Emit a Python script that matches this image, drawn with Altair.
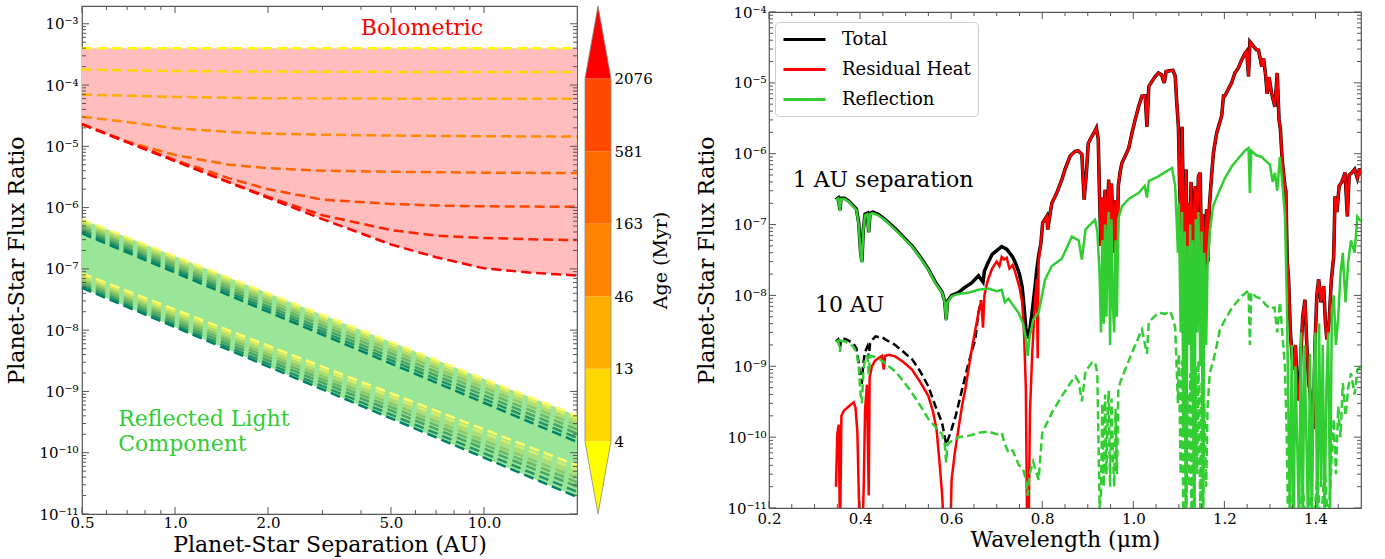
import altair as alt
import pandas as pd

FONT = "DejaVu Serif"
FRAME = "#555555"

# ---------------------------------------------------------------------------
# Left panel: planet/star flux ratio against orbital separation
# ---------------------------------------------------------------------------
sep_au = [0.5, 0.7, 1.0, 1.5, 2.0, 3.0, 5.0, 7.0, 10.0, 14.0, 20.0]

# bolometric tracks, youngest (top) to oldest (bottom)
bolo_track_1 = [4.0e-4, 4.0e-4, 4.0e-4, 4.0e-4, 4.0e-4, 4.0e-4, 4.0e-4, 4.0e-4, 4.0e-4, 4.0e-4, 4.0e-4]
bolo_track_2 = [1.8e-4, 1.74e-4, 1.7e-4, 1.67e-4, 1.66e-4, 1.65e-4, 1.64e-4, 1.64e-4, 1.63e-4, 1.63e-4, 1.63e-4]
bolo_track_3 = [7.0e-5, 6.7e-5, 6.4e-5, 6.2e-5, 6.1e-5, 6.05e-5, 6.0e-5, 6.0e-5, 5.98e-5, 5.97e-5, 5.97e-5]
bolo_track_4 = [3.05e-5, 2.5e-5, 1.97e-5, 1.72e-5, 1.62e-5, 1.55e-5, 1.5e-5, 1.48e-5, 1.46e-5, 1.45e-5, 1.44e-5]
bolo_track_5 = [2.3e-5, 1.2e-5, 7.2e-6, 5.0e-6, 4.4e-6, 4.0e-6, 3.85e-6, 3.78e-6, 3.72e-6, 3.69e-6, 3.67e-6]
bolo_track_6 = [2.3e-5, 1.18e-5, 6.0e-6, 3.0e-6, 2.0e-6, 1.35e-6, 1.15e-6, 1.08e-6, 1.05e-6, 1.04e-6, 1.03e-6]
bolo_track_7 = [2.3e-5, 1.17e-5, 5.8e-6, 2.6e-6, 1.5e-6, 7.5e-7, 4.3e-7, 3.5e-7, 3.2e-7, 3.05e-7, 2.95e-7]
bolo_track_8 = [2.3e-5, 1.17e-5, 5.75e-6, 2.55e-6, 1.44e-6, 6.5e-7, 2.5e-7, 1.55e-7, 1.02e-7, 8.7e-8, 7.8e-8]
bolo_tracks = [bolo_track_1, bolo_track_2, bolo_track_3, bolo_track_4,
               bolo_track_5, bolo_track_6, bolo_track_7, bolo_track_8]
bolo_colors = ["#ffff00", "#ffd700", "#ffae00", "#ff8c00",
               "#ff6a00", "#ff4800", "#ff2400", "#ff0000"]

# reflected-light tracks (two albedo bundles), values at 0.5 AU and 20 AU
refl_sep = [0.5, 20.0]
refl_upper_at_05 = [6.4e-7, 6.0e-7, 5.6e-7, 5.2e-7, 4.8e-7, 4.4e-7, 4.1e-7, 3.8e-7]
refl_upper_at_20 = [4.0e-10, 3.6e-10, 3.2e-10, 2.8e-10, 2.4e-10, 2.05e-10, 1.75e-10, 1.5e-10]
refl_lower_at_05 = [8.4e-8, 7.8e-8, 7.2e-8, 6.6e-8, 6.1e-8, 5.6e-8, 5.2e-8, 4.9e-8]
refl_lower_at_20 = [6.2e-11, 5.3e-11, 4.6e-11, 3.9e-11, 3.3e-11, 2.8e-11, 2.3e-11, 1.9e-11]
refl_colors = ["#ffff66", "#dbed66", "#b6db66", "#92c966",
               "#6db666", "#49a466", "#249266", "#008066"]

# colour bar: age bins
age_labels = ["4", "13", "46", "163", "581", "2076"]
age_bin_colors = ["#ffd800", "#ffad00", "#ff8500", "#ff6a00", "#ff4a00"]
age_low_color = "#ffff00"
age_high_color = "#ff0000"

# axis ticks
left_x_major = [0.5, 1.0, 2.0, 5.0, 10.0]
left_x_minor = [0.6, 0.7, 0.8, 0.9, 3.0, 4.0, 6.0, 7.0, 8.0, 9.0]
left_y_exps = [-11, -10, -9, -8, -7, -6, -5, -4, -3]
left_y_labels = ["10⁻¹¹", "10⁻¹⁰", "10⁻⁹", "10⁻⁸", "10⁻⁷", "10⁻⁶", "10⁻⁵", "10⁻⁴", "10⁻³"]
left_y_major = [1e-11, 1e-10, 1e-9, 1e-8, 1e-7, 1e-6, 1e-5, 1e-4, 1e-3]

right_x_major = [0.2, 0.4, 0.6, 0.8, 1.0, 1.2, 1.4]
right_x_minor = [0.25, 0.3, 0.35, 0.45, 0.5, 0.55, 0.65, 0.7, 0.75, 0.85, 0.9, 0.95,
                 1.05, 1.1, 1.15, 1.25, 1.3, 1.35, 1.45]
right_y_exps = [-11, -10, -9, -8, -7, -6, -5, -4]
right_y_labels = ["10⁻¹¹", "10⁻¹⁰", "10⁻⁹", "10⁻⁸", "10⁻⁷", "10⁻⁶", "10⁻⁵", "10⁻⁴"]
right_y_major = [1e-11, 1e-10, 1e-9, 1e-8, 1e-7, 1e-6, 1e-5, 1e-4]
log_minor_mult = [2, 3, 4, 5, 6, 7, 8, 9]

# ---------------------------------------------------------------------------
# Right panel: spectra (wavelength in micron, flux ratio)
# ---------------------------------------------------------------------------
residual_heat = [
    (0.347, 2.0e-11), (0.350, 1.1e-10), (0.353, 1.5e-10), (0.356, 4e-12), (0.359, 2.0e-10),
    (0.365, 2.4e-10), (0.372, 2.6e-10), (0.380, 2.9e-10), (0.386, 3.1e-10), (0.390, 2.6e-10),
    (0.394, 1.2e-10), (0.398, 1.0e-11), (0.400, 4e-12), (0.405, 4e-12), (0.408, 2.0e-11),
    (0.411, 2.5e-10), (0.415, 5.5e-10), (0.419, 1.5e-11), (0.421, 7e-10), (0.426, 1.0e-9),
    (0.433, 1.2e-9), (0.440, 1.3e-9), (0.448, 1.4e-9), (0.452, 9e-10), (0.455, 1.4e-9),
    (0.463, 1.45e-9), (0.477, 1.38e-9), (0.495, 1.15e-9), (0.514, 9.0e-10), (0.532, 6.0e-10),
    (0.550, 3.8e-10), (0.560, 2.3e-10), (0.568, 1.28e-10), (0.575, 4e-11), (0.580, 1.6e-11),
    (0.585, 4e-12), (0.598, 4e-12), (0.601, 2.5e-11), (0.608, 6e-11), (0.616, 1.3e-10),
    (0.624, 2.8e-10), (0.631, 4.7e-10), (0.638, 9e-10), (0.645, 1.7e-9), (0.652, 3e-9),
    (0.660, 5.7e-9), (0.666, 8.5e-9), (0.670, 3.5e-9), (0.673, 1.0e-8), (0.680, 1.6e-8),
    (0.690, 2.4e-8), (0.700, 3.0e-8), (0.706, 2.6e-8), (0.711, 3.5e-8), (0.716, 3.2e-8),
    (0.722, 3.4e-8), (0.728, 2.4e-8), (0.735, 2.7e-8), (0.741, 2.1e-8), (0.750, 1.3e-8),
    (0.756, 8e-9), (0.760, 3e-9), (0.764, 5e-10), (0.767, 4e-12), (0.770, 4e-12),
    (0.773, 2.2e-10), (0.778, 1.5e-9), (0.784, 8e-9), (0.788, 1.7e-8), (0.790, 1.3e-9),
    (0.792, 3.0e-8), (0.797, 5.5e-8), (0.801, 1.06e-7), (0.810, 1.31e-7), (0.812, 8.5e-8),
    (0.821, 2.0e-7), (0.832, 2.8e-7), (0.843, 4.3e-7), (0.850, 6.0e-7), (0.861, 9.2e-7),
    (0.872, 1.08e-6), (0.879, 1.1e-6), (0.887, 9.8e-7), (0.892, 2.25e-7), (0.897, 5.4e-7),
    (0.901, 1.4e-6), (0.909, 1.76e-6), (0.916, 2.1e-6), (0.919, 2.3e-6), (0.923, 1.6e-6),
    (0.926, 2.2e-7), (0.929, 5e-8), (0.932, 2.4e-7), (0.935, 6e-8), (0.938, 3.1e-7),
    (0.941, 4e-8), (0.944, 2.0e-7), (0.946, 4.3e-7), (0.949, 8e-8), (0.952, 3.8e-7),
    (0.955, 1.2e-7), (0.958, 4e-8), (0.961, 2.2e-7), (0.964, 3e-8), (0.967, 3.5e-7),
    (0.971, 5.5e-7), (0.975, 7.4e-7), (0.983, 9.5e-7), (0.990, 1.2e-6), (0.997, 1.95e-6),
    (1.004, 3.0e-6), (1.012, 4.7e-6), (1.019, 6.5e-6), (1.026, 6.6e-6), (1.030, 2.4e-6),
    (1.034, 8.9e-6), (1.041, 1.05e-5), (1.048, 1.23e-5), (1.055, 1.38e-5), (1.062, 1.3e-5),
    (1.068, 1.0e-5), (1.072, 1.45e-5), (1.080, 1.48e-5), (1.087, 1.5e-5), (1.092, 1.25e-5),
    (1.095, 5.8e-6), (1.099, 2.4e-6), (1.102, 3e-7), (1.105, 8e-8), (1.107, 2.4e-6),
    (1.110, 2e-7), (1.113, 3e-8), (1.116, 6e-7), (1.119, 1.2e-8), (1.121, 2.0e-7),
    (1.124, 5e-8), (1.127, 4e-7), (1.130, 1.5e-8), (1.133, 1.5e-7), (1.136, 3.5e-7),
    (1.139, 6e-8), (1.143, 4.8e-7), (1.147, 5.4e-7), (1.150, 2e-8), (1.153, 1.4e-7),
    (1.156, 1.4e-8), (1.159, 6e-8), (1.161, 1.64e-7), (1.164, 3e-8), (1.167, 1.8e-7),
    (1.172, 5e-7), (1.176, 1.03e-6), (1.183, 1.95e-6), (1.190, 2.8e-6), (1.194, 3.4e-6),
    (1.198, 6.5e-6), (1.201, 6.5e-6), (1.210, 8.5e-6), (1.216, 1.0e-5), (1.223, 1.38e-5),
    (1.230, 1.6e-5), (1.238, 2.1e-5), (1.245, 2.6e-5), (1.249, 2.8e-5), (1.253, 1.23e-5),
    (1.256, 3.8e-5), (1.262, 3.4e-5), (1.270, 2.95e-5), (1.275, 2.9e-5), (1.282, 1.7e-5),
    (1.286, 2.2e-5), (1.290, 1.38e-5), (1.294, 7e-6), (1.298, 1.2e-5), (1.304, 7e-6),
    (1.311, 4.6e-6), (1.316, 1.38e-5), (1.320, 3e-6), (1.323, 2.2e-6), (1.327, 8e-7),
    (1.333, 3.5e-7), (1.335, 3.0e-7), (1.338, 3e-8), (1.341, 1.7e-8), (1.345, 3e-9),
    (1.349, 1.3e-9), (1.352, 9e-10), (1.356, 2e-9), (1.360, 5e-10), (1.364, 3.3e-10),
    (1.368, 1.5e-9), (1.372, 5e-9), (1.377, 8.7e-9), (1.381, 2e-9), (1.385, 6e-10),
    (1.388, 4.3e-10), (1.392, 2e-10), (1.395, 1.3e-10), (1.399, 2e-9), (1.403, 1e-8),
    (1.407, 1.7e-8), (1.412, 8e-9), (1.418, 1.35e-8), (1.422, 4e-9), (1.425, 2.4e-9),
    (1.430, 4.2e-9), (1.435, 1.7e-8), (1.440, 3.5e-8), (1.443, 2.5e-7), (1.447, 1.5e-7),
    (1.452, 3.5e-7), (1.458, 4e-7), (1.465, 5.4e-7), (1.470, 1.3e-7), (1.474, 5e-7),
    (1.480, 5.4e-7), (1.486, 6e-7), (1.492, 4.5e-7), (1.497, 6.2e-7), (1.500, 5e-7),
]

reflection_1au = [
    (0.347, 2.2e-7), (0.352, 2.33e-7), (0.356, 1.55e-7), (0.358, 2.3e-7), (0.366, 2.3e-7),
    (0.375, 2.1e-7), (0.385, 1.8e-7), (0.392, 1.6e-7), (0.397, 1.0e-7), (0.401, 4e-8),
    (0.404, 2.9e-8), (0.407, 8e-8), (0.411, 1.35e-7), (0.416, 1.4e-7), (0.419, 7.6e-8),
    (0.422, 1.4e-7), (0.428, 1.45e-7), (0.440, 1.35e-7), (0.455, 1.15e-7), (0.477, 8.5e-8),
    (0.495, 6.5e-8), (0.514, 4.9e-8), (0.532, 3.4e-8), (0.550, 2.3e-8), (0.565, 1.5e-8),
    (0.580, 1.1e-8), (0.586, 8e-9), (0.589, 4.4e-9), (0.592, 8e-9), (0.601, 9.7e-9),
    (0.616, 1.05e-8), (0.640, 1.1e-8), (0.660, 1.2e-8), (0.682, 1.25e-8), (0.700, 1.15e-8),
    (0.711, 1.2e-8), (0.718, 8e-9), (0.726, 9e-9), (0.735, 7.4e-9), (0.748, 5.7e-9),
    (0.758, 4e-9), (0.764, 2.5e-9), (0.768, 1.4e-9), (0.772, 2.5e-9), (0.780, 4.5e-9),
    (0.792, 5.7e-9), (0.806, 1.65e-8), (0.821, 2.6e-8), (0.843, 3.3e-8), (0.865, 6.8e-8),
    (0.880, 6e-8), (0.887, 3.2e-8), (0.895, 8.5e-8), (0.902, 9.5e-8), (0.916, 1.17e-7),
    (0.921, 8e-8), (0.926, 2e-8), (0.929, 3e-9), (0.932, 6e-8), (0.935, 4e-9),
    (0.938, 1e-7), (0.941, 5e-9), (0.944, 8e-8), (0.946, 1.5e-7), (0.949, 2e-9),
    (0.952, 1.2e-7), (0.955, 8e-9), (0.958, 3e-9), (0.961, 6e-8), (0.964, 5e-9),
    (0.967, 1.2e-7), (0.975, 1.8e-7), (0.990, 2.3e-7), (1.012, 2.8e-7), (1.025, 3.5e-7),
    (1.030, 2.4e-7), (1.034, 4.1e-7), (1.055, 4.8e-7), (1.070, 5.5e-7), (1.085, 6.3e-7),
    (1.092, 3.5e-7), (1.098, 4e-8), (1.100, 2e-7), (1.104, 3e-9), (1.107, 1.5e-7),
    (1.110, 1e-10), (1.113, 8e-8), (1.116, 5e-12), (1.119, 5e-8), (1.122, 2e-9),
    (1.125, 1e-7), (1.128, 4e-10), (1.131, 6e-8), (1.134, 5e-12), (1.137, 1.2e-7),
    (1.140, 3e-9), (1.143, 1.5e-7), (1.147, 1e-9), (1.150, 8e-8), (1.153, 5e-12),
    (1.156, 4e-8), (1.160, 2e-9), (1.163, 2.6e-8), (1.168, 8e-8), (1.175, 1.8e-7),
    (1.187, 2.8e-7), (1.201, 4.5e-7), (1.216, 6.6e-7), (1.230, 8.5e-7), (1.245, 1.1e-6),
    (1.253, 1.2e-6), (1.256, 2.8e-7), (1.259, 1.1e-6), (1.270, 9.5e-7), (1.282, 9e-7),
    (1.290, 8e-7), (1.300, 7e-7), (1.306, 4e-7), (1.311, 5.4e-7), (1.316, 3e-7),
    (1.322, 9e-7), (1.327, 4e-7), (1.333, 1.3e-7), (1.337, 1e-8), (1.340, 5e-10),
    (1.344, 5e-12), (1.348, 2e-9), (1.352, 5e-12), (1.356, 1e-9), (1.360, 8e-11),
    (1.364, 5e-12), (1.368, 3e-9), (1.372, 5e-12), (1.376, 2e-9), (1.380, 1e-10),
    (1.384, 5e-12), (1.388, 1.5e-9), (1.392, 5e-12), (1.396, 6e-10), (1.400, 3e-9),
    (1.404, 5e-12), (1.408, 4e-9), (1.412, 2e-11), (1.416, 2e-9), (1.420, 5e-12),
    (1.424, 5e-10), (1.428, 3e-9), (1.432, 1e-11), (1.436, 6e-9), (1.440, 1e-8),
    (1.445, 2e-9), (1.450, 5e-9), (1.455, 2e-8), (1.460, 4e-8), (1.466, 8e-9),
    (1.472, 3e-8), (1.478, 6e-8), (1.486, 4e-8), (1.492, 1.3e-7), (1.500, 1.1e-7),
]

reflection_10au = [
    (0.347, 2.2e-9), (0.352, 2.3e-9), (0.356, 1.6e-9), (0.358, 2.3e-9), (0.366, 2.25e-9),
    (0.375, 2.1e-9), (0.385, 1.9e-9), (0.392, 1.6e-9), (0.397, 1.0e-9), (0.401, 4e-10),
    (0.404, 3.0e-10), (0.407, 8e-10), (0.411, 1.32e-9), (0.416, 1.4e-9), (0.419, 7.7e-10),
    (0.422, 1.4e-9), (0.428, 1.39e-9), (0.440, 1.3e-9), (0.455, 1.1e-9), (0.477, 8.5e-10),
    (0.495, 6.2e-10), (0.514, 4.2e-10), (0.532, 2.8e-10), (0.550, 1.8e-10), (0.565, 1.4e-10),
    (0.580, 1.1e-10), (0.586, 8e-11), (0.589, 4.4e-11), (0.592, 8e-11), (0.601, 8.8e-11),
    (0.616, 1.0e-10), (0.640, 1.05e-10), (0.660, 1.15e-10), (0.682, 1.2e-10), (0.700, 1.1e-10),
    (0.711, 1.15e-10), (0.718, 8e-11), (0.726, 6e-11), (0.735, 6.5e-11), (0.748, 4.1e-11),
    (0.758, 3.5e-11), (0.764, 2.5e-11), (0.768, 1.5e-11), (0.772, 3e-11), (0.780, 4.5e-11),
    (0.792, 2.5e-11), (0.800, 1.15e-10), (0.814, 1.78e-10), (0.821, 2.2e-10), (0.843, 3.8e-10),
    (0.865, 6.2e-10), (0.873, 7.2e-10), (0.880, 6e-10), (0.887, 3.2e-10), (0.895, 8.5e-10),
    (0.909, 1.12e-9), (0.916, 1.15e-9), (0.921, 8e-10), (0.926, 1e-11), (0.929, 1.5e-11),
    (0.932, 3e-10), (0.935, 2e-11), (0.938, 4e-10), (0.941, 3e-11), (0.944, 2.5e-10),
    (0.946, 4.5e-10), (0.949, 2e-11), (0.952, 3.5e-10), (0.955, 6e-11), (0.958, 2e-11),
    (0.961, 2.5e-10), (0.964, 3e-11), (0.967, 4.5e-10), (0.971, 5.9e-10), (0.985, 1.0e-9),
    (0.997, 1.55e-9), (1.019, 3.3e-9), (1.030, 1.5e-9), (1.034, 4.2e-9), (1.055, 5.7e-9),
    (1.070, 5.5e-9), (1.081, 6.0e-9), (1.088, 4.5e-9), (1.092, 3.5e-9), (1.098, 3e-10),
    (1.100, 1.5e-9), (1.104, 3e-11), (1.107, 1.2e-9), (1.110, 5e-12), (1.113, 6e-10),
    (1.116, 5e-12), (1.119, 4e-10), (1.122, 2e-11), (1.125, 8e-10), (1.128, 5e-12),
    (1.131, 5e-10), (1.134, 5e-12), (1.137, 1e-9), (1.140, 3e-11), (1.143, 1.2e-9),
    (1.147, 1e-11), (1.150, 6e-10), (1.153, 5e-12), (1.156, 3e-10), (1.160, 2e-11),
    (1.163, 2.6e-10), (1.168, 8e-10), (1.180, 1.55e-9), (1.190, 3.3e-9), (1.201, 4.5e-9),
    (1.216, 6.6e-9), (1.238, 9.8e-9), (1.248, 1.1e-8), (1.253, 1.2e-8), (1.256, 2e-9),
    (1.259, 1.1e-8), (1.270, 9.5e-9), (1.280, 9e-9), (1.290, 7.5e-9), (1.300, 6.5e-9),
    (1.310, 6.8e-9), (1.316, 3e-9), (1.322, 8e-9), (1.327, 3e-9), (1.333, 1.0e-9),
    (1.337, 1e-10), (1.340, 5e-12), (1.344, 2e-11), (1.348, 5e-12), (1.352, 1.5e-11),
    (1.356, 5e-12), (1.364, 5e-12), (1.372, 2e-11), (1.380, 5e-12), (1.388, 1.5e-11),
    (1.396, 5e-12), (1.404, 3e-11), (1.412, 5e-12), (1.420, 4e-11), (1.428, 5e-12),
    (1.436, 6e-11), (1.440, 1.8e-10), (1.445, 3e-11), (1.450, 2.7e-10), (1.455, 1e-10),
    (1.460, 5.8e-10), (1.466, 2e-10), (1.472, 5e-10), (1.478, 8e-10), (1.486, 4e-10),
    (1.492, 9e-10), (1.500, 1.0e-9),
]

# total at 1 AU where reflection dominates; beyond 0.8 micron it follows the residual heat
total_1au_blue = [
    (0.347, 2.25e-7), (0.352, 2.38e-7), (0.356, 1.6e-7), (0.358, 2.35e-7), (0.366, 2.35e-7),
    (0.375, 2.15e-7), (0.385, 1.85e-7), (0.392, 1.65e-7), (0.397, 1.05e-7), (0.401, 4.2e-8),
    (0.404, 3.0e-8), (0.407, 8.3e-8), (0.411, 1.4e-7), (0.416, 1.45e-7), (0.419, 7.8e-8),
    (0.422, 1.45e-7), (0.428, 1.5e-7), (0.440, 1.4e-7), (0.455, 1.18e-7), (0.477, 8.8e-8),
    (0.495, 6.7e-8), (0.514, 5.0e-8), (0.532, 3.5e-8), (0.550, 2.35e-8), (0.565, 1.55e-8),
    (0.580, 1.12e-8), (0.586, 8.2e-9), (0.589, 4.6e-9), (0.592, 8.3e-9), (0.601, 1.0e-8),
    (0.616, 1.1e-8), (0.630, 1.3e-8), (0.645, 1.5e-8), (0.660, 1.9e-8), (0.670, 1.55e-8),
    (0.673, 2.2e-8), (0.680, 2.8e-8), (0.690, 3.8e-8), (0.700, 4.3e-8), (0.711, 4.9e-8),
    (0.722, 4.5e-8), (0.735, 3.5e-8), (0.741, 2.9e-8), (0.750, 2.0e-8), (0.756, 1.3e-8),
    (0.760, 7e-9), (0.764, 3.5e-9), (0.768, 2.5e-9), (0.772, 3e-9), (0.778, 6e-9),
    (0.784, 1.3e-8), (0.788, 2.3e-8), (0.792, 3.6e-8), (0.797, 5.4e-8),
]

total_10au_blue = [
    (0.347, 2.25e-9), (0.352, 2.4e-9), (0.356, 1.8e-9), (0.358, 2.45e-9), (0.366, 2.45e-9),
    (0.375, 2.3e-9), (0.385, 2.1e-9), (0.392, 1.8e-9), (0.397, 1.1e-9), (0.401, 6e-10),
    (0.404, 5.9e-10), (0.407, 1.1e-9), (0.411, 1.6e-9), (0.416, 1.9e-9), (0.419, 1.3e-9),
    (0.422, 2.1e-9), (0.428, 2.4e-9), (0.434, 2.65e-9), (0.440, 2.6e-9), (0.448, 2.6e-9),
    (0.455, 2.4e-9), (0.477, 2.0e-9), (0.495, 1.6e-9), (0.514, 1.26e-9), (0.532, 8.5e-10),
    (0.550, 5.2e-10), (0.565, 2.8e-10), (0.580, 1.6e-10), (0.586, 1.0e-10), (0.589, 7.9e-11),
    (0.595, 1.0e-10), (0.601, 1.3e-10), (0.610, 2.0e-10), (0.624, 4.7e-10), (0.638, 1.1e-9),
    (0.653, 2.4e-9), (0.660, 5.8e-9), (0.666, 8.6e-9),
]

total_1au = total_1au_blue + [p for p in residual_heat if p[0] > 0.8]

series_names = ["Total", "Residual Heat", "Reflection"]
series_colors = ["#000000", "#ff0000", "#32cd32"]

# ---------------------------------------------------------------------------
# geometry of the panels
# ---------------------------------------------------------------------------
W1, H1 = 495, 508
WC = 26          # width of the colour bar itself
WC_CELL = 176    # colour bar cell, including the gap before the spectrum panel
W2, H2 = 592, 496
MAJOR, MINOR = 7, 4


def sup_expr(exps, labels):
    arr = ",".join("'%s'" % s for s in labels)
    ex = ",".join(str(e) for e in exps)
    return "[%s][indexof([%s], round(log(datum.value)/LN10))]" % (arr, ex)


def minor_log(lo_exp, hi_exp, top):
    vals = []
    for e in range(lo_exp, hi_exp + 1):
        for m in log_minor_mult:
            v = m * 10.0 ** e
            if v < top:
                vals.append(v)
    return vals


def x_ticks(values, x_enc, H, length):
    df = pd.DataFrame({"v": values})
    bottom = alt.Chart(df).mark_rule(color=FRAME, strokeWidth=1).encode(
        x=x_enc, y=alt.value(H), y2=alt.value(H - length))
    top = alt.Chart(df).mark_rule(color=FRAME, strokeWidth=1).encode(
        x=x_enc, y=alt.value(0), y2=alt.value(length))
    return [bottom, top]


def y_ticks(values, y_enc, W, length):
    df = pd.DataFrame({"v": values})
    left = alt.Chart(df).mark_rule(color=FRAME, strokeWidth=1).encode(
        y=y_enc, x=alt.value(0), x2=alt.value(length))
    right = alt.Chart(df).mark_rule(color=FRAME, strokeWidth=1).encode(
        y=y_enc, x=alt.value(W), x2=alt.value(W - length))
    return [left, right]


# ---------------------------------------------------------------------------
# left panel
# ---------------------------------------------------------------------------
sx1 = alt.Scale(type="log", domain=[0.5, 20.0], nice=False)
sy1 = alt.Scale(type="log", domain=[1e-11, 1.95e-3], nice=False)
ax_x1 = alt.Axis(title="Planet-Star Separation (AU)", values=left_x_major, format=".1f",
                 ticks=False, domain=False, grid=False, labelFlush=False, labelOverlap=False,
                 labelPadding=1, titlePadding=4)
ax_y1 = alt.Axis(title="Planet-Star Flux Ratio", values=left_y_major,
                 labelExpr=sup_expr(left_y_exps, left_y_labels),
                 ticks=False, domain=False, grid=False, labelFlush=False, labelOverlap=False,
                 labelPadding=4, titlePadding=10)


def X1(f):
    return alt.X(f, scale=sx1, axis=ax_x1)


def Y1(f):
    return alt.Y(f, scale=sy1, axis=ax_y1)


bolo_band = pd.DataFrame({"sep": sep_au, "hi": bolo_track_1, "lo": bolo_track_8})
bolo_rows = []
for i, tr in enumerate(bolo_tracks):
    for s, f in zip(sep_au, tr):
        bolo_rows.append({"sep": s, "flux": f, "track": i})
bolo_df = pd.DataFrame(bolo_rows)

refl_rows = []
for name, near, far in (("upper", refl_upper_at_05, refl_upper_at_20),
                        ("lower", refl_lower_at_05, refl_lower_at_20)):
    for i in range(len(near)):
        for s, f in zip(refl_sep, (near[i], far[i])):
            refl_rows.append({"sep": s, "flux": f, "shade": i, "track": "%s%d" % (name, i)})
refl_df = pd.DataFrame(refl_rows)
refl_band = pd.DataFrame({"sep": refl_sep,
                          "hi": [refl_upper_at_05[0], refl_upper_at_20[0]],
                          "lo": [refl_lower_at_05[-1], refl_lower_at_20[-1]]})

pink = alt.Chart(bolo_band).mark_area(color="#ffbdbd").encode(
    x=X1("sep:Q"), y=Y1("hi:Q"), y2="lo:Q")
green = alt.Chart(refl_band).mark_area(color="#99e699").encode(
    x=X1("sep:Q"), y=Y1("hi:Q"), y2="lo:Q")
bolo_lines = alt.Chart(bolo_df).mark_line(strokeDash=[10, 5], strokeWidth=2.5).encode(
    x=X1("sep:Q"), y=Y1("flux:Q"),
    color=alt.Color("track:O", scale=alt.Scale(domain=list(range(8)), range=bolo_colors), legend=None))
refl_lines = alt.Chart(refl_df).mark_line(strokeDash=[10, 5], strokeWidth=2.5).encode(
    x=X1("sep:Q"), y=Y1("flux:Q"), detail="track:N",
    color=alt.Color("shade:O", scale=alt.Scale(domain=list(range(8)), range=refl_colors), legend=None))

left_text = pd.DataFrame({
    "sep": [6.3, 0.655, 0.655],
    "flux": [8.4e-4, 3.6e-10, 1.4e-10],
    "label": ["Bolometric", "Reflected Light", "Component"],
    "kind": ["bolo", "refl", "refl"],
})
bolo_label = alt.Chart(left_text[left_text.kind == "bolo"]).mark_text(
    font=FONT, fontSize=22, color="#ff0000", align="center", baseline="middle").encode(
    x=X1("sep:Q"), y=Y1("flux:Q"), text="label:N")
refl_label = alt.Chart(left_text[left_text.kind == "refl"]).mark_text(
    font=FONT, fontSize=22, color="#32cd32", align="left", baseline="middle").encode(
    x=X1("sep:Q"), y=Y1("flux:Q"), text="label:N")

left_ticks = (x_ticks(left_x_major, X1("v:Q"), H1, MAJOR)
              + x_ticks(left_x_minor, X1("v:Q"), H1, MINOR)
              + y_ticks(left_y_major, Y1("v:Q"), W1, MAJOR)
              + y_ticks(minor_log(-11, -3, 1.95e-3), Y1("v:Q"), W1, MINOR))

left = alt.layer(pink, green, bolo_lines, refl_lines, bolo_label, refl_label, *left_ticks).properties(
    width=W1, height=H1, view=alt.ViewBackground(stroke=FRAME, strokeWidth=1.2)
).resolve_scale(color="independent")

# ---------------------------------------------------------------------------
# colour bar (drawn in the left part of its cell, axis pulled back onto it)
# ---------------------------------------------------------------------------
scx = alt.Scale(domain=[0, 1], range=[0, WC], nice=False, zero=False)
scy = alt.Scale(domain=[-1, 6], nice=False, zero=False)
ax_c = alt.Axis(title="Age (Myr)", orient="right", offset=WC - WC_CELL,
                values=list(range(len(age_labels))),
                labelExpr="[%s][datum.value]" % ",".join("'%s'" % a for a in age_labels),
                ticks=False, domain=False, grid=False, labelFlush=False, labelOverlap=False,
                labelPadding=3, titlePadding=18, titleAngle=270, titleFontSize=19)

bins = pd.DataFrame({"lo": list(range(len(age_bin_colors))),
                     "hi": [i + 1 for i in range(len(age_bin_colors))],
                     "c": age_bin_colors})
cbar_bins = alt.Chart(bins).mark_rect().encode(
    x=alt.value(0), x2=alt.value(WC),
    y=alt.Y("lo:Q", scale=scy, axis=ax_c), y2="hi:Q",
    color=alt.Color("c:N", scale=None))
tip_hi = alt.Chart(pd.DataFrame({"x": [0, 0.5, 1], "y": [5, 6, 5], "b": [5, 5, 5]})).mark_area(
    color=age_high_color).encode(x=alt.X("x:Q", scale=scx, axis=None),
                                 y=alt.Y("y:Q", scale=scy, axis=ax_c), y2="b:Q")
tip_lo = alt.Chart(pd.DataFrame({"x": [0, 0.5, 1], "y": [0, -1, 0], "b": [0, 0, 0]})).mark_area(
    color=age_low_color).encode(x=alt.X("x:Q", scale=scx, axis=None),
                                y=alt.Y("y:Q", scale=scy, axis=ax_c), y2="b:Q")
outline = alt.Chart(pd.DataFrame({"x": [0.5, 1, 1, 0.5, 0, 0, 0.5],
                                  "y": [6, 5, 0, -1, 0, 5, 6],
                                  "i": list(range(7))})).mark_line(
    color="#888888", strokeWidth=0.8).encode(
    x=alt.X("x:Q", scale=scx, axis=None), y=alt.Y("y:Q", scale=scy, axis=ax_c), order="i:Q")

cbar = alt.layer(cbar_bins, tip_hi, tip_lo, outline).properties(
    width=WC_CELL, height=H1, view=alt.ViewBackground(stroke=None))

# ---------------------------------------------------------------------------
# right panel
# ---------------------------------------------------------------------------
sx2 = alt.Scale(domain=[0.2, 1.5], nice=False, zero=False)
sy2 = alt.Scale(type="log", domain=[1e-11, 1e-4], nice=False)
ax_x2 = alt.Axis(title="Wavelength (μm)", values=right_x_major, format=".1f",
                 ticks=False, domain=False, grid=False, labelFlush=False, labelOverlap=False,
                 labelPadding=3, titlePadding=3)
ax_y2 = alt.Axis(title="Planet-Star Flux Ratio", values=right_y_major,
                 labelExpr=sup_expr(right_y_exps, right_y_labels),
                 ticks=False, domain=False, grid=False, labelFlush=False, labelOverlap=False,
                 labelPadding=3, titlePadding=8)


def X2(f):
    return alt.X(f, scale=sx2, axis=ax_x2)


def Y2(f):
    return alt.Y(f, scale=sy2, axis=ax_y2)


# legend sits in the upper-left corner of the spectrum panel
LEG_X = 80 + W1 + 8 + WC_CELL + 8 + 10 - 84
color_enc = alt.Color("series:N", scale=alt.Scale(domain=series_names, range=series_colors),
                      legend=alt.Legend(title=None, orient="none", legendX=LEG_X, legendY=16,
                                        direction="vertical", fillColor="white",
                                        strokeColor="#cccccc", cornerRadius=4, padding=7,
                                        labelFont=FONT, labelFontSize=18, labelColor="black",
                                        symbolType="M-1,0H3.67", symbolStrokeWidth=3,
                                        symbolSize=324, labelOffset=39, rowPadding=10))


def spec_df(points, series):
    return pd.DataFrame({"wl": [p[0] for p in points], "flux": [p[1] for p in points],
                         "series": series})


tot1 = alt.Chart(spec_df(total_1au, "Total")).mark_line(strokeWidth=3.5, clip=True).encode(
    x=X2("wl:Q"), y=Y2("flux:Q"), color=color_enc)
heat = alt.Chart(spec_df(residual_heat, "Residual Heat")).mark_line(strokeWidth=2.5, clip=True).encode(
    x=X2("wl:Q"), y=Y2("flux:Q"), color=color_enc)
refl1 = alt.Chart(spec_df(reflection_1au, "Reflection")).mark_line(strokeWidth=2.5, clip=True).encode(
    x=X2("wl:Q"), y=Y2("flux:Q"), color=color_enc)
tot10 = alt.Chart(spec_df(total_10au_blue, "Total")).mark_line(
    strokeWidth=2.5, strokeDash=[8, 4], clip=True).encode(
    x=X2("wl:Q"), y=Y2("flux:Q"), color=color_enc)
refl10 = alt.Chart(spec_df(reflection_10au, "Reflection")).mark_line(
    strokeWidth=2.5, strokeDash=[8, 4], clip=True).encode(
    x=X2("wl:Q"), y=Y2("flux:Q"), color=color_enc)

right_text = pd.DataFrame({"wl": [0.252, 0.301], "flux": [4.3e-7, 7.4e-9],
                           "label": ["1 AU separation", "10 AU"]})
sep_labels = alt.Chart(right_text).mark_text(
    font=FONT, fontSize=22, color="black", align="left", baseline="middle").encode(
    x=X2("wl:Q"), y=Y2("flux:Q"), text="label:N")

right_ticks = (x_ticks(right_x_major, X2("v:Q"), H2, MAJOR)
               + x_ticks(right_x_minor, X2("v:Q"), H2, MINOR)
               + y_ticks(right_y_major, Y2("v:Q"), W2, MAJOR)
               + y_ticks(minor_log(-11, -5, 1e-4), Y2("v:Q"), W2, MINOR))

right = alt.layer(tot1, tot10, heat, refl1, refl10, sep_labels, *right_ticks).properties(
    width=W2, height=H2, view=alt.ViewBackground(stroke=FRAME, strokeWidth=1.2))

chart = alt.hconcat(left, cbar, right, spacing=8, bounds="flush", center=True).configure(
    font=FONT
).configure_axis(
    labelFont=FONT, titleFont=FONT, labelFontSize=15, titleFontSize=22,
    labelColor="black", titleColor="black", titleFontWeight="normal"
).properties(padding={"left": 5, "top": 4, "right": 5, "bottom": 5})

chart.save("out.html", embed_options={"renderer": "svg", "actions": False})
